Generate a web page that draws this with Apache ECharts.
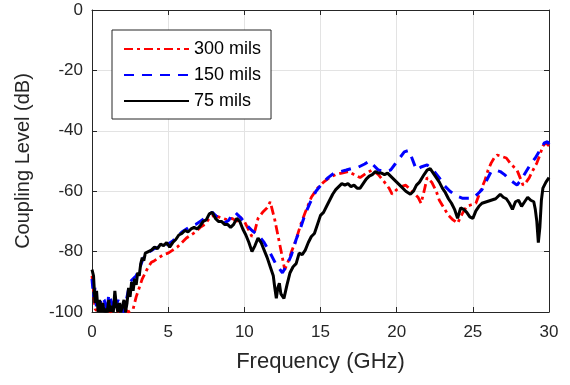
<!DOCTYPE html>
<html>
<head>
<meta charset="utf-8">
<script src="https://cdn.jsdelivr.net/npm/echarts@6/dist/echarts.min.js"></script>
<style>
  html, body { margin: 0; padding: 0; background: #fff; }
  #chart { width: 570px; height: 385px; }
</style>
</head>
<body>
<div id="chart"></div>
<script>
// Coupling level vs frequency for three trace spacings
const seriesNames = ['300 mils', '150 mils', '75 mils'];
const xTicks = [0, 5, 10, 15, 20, 25, 30];
const yTicks = [-100, -80, -60, -40, -20, 0];

// [GHz, dB]
const mils300 = [
  [0.0,-88],[0.1,-93],[0.2,-99],[0.4,-100],[0.6,-97],[0.8,-100],[1.0,-99],[1.2,-100],
  [1.5,-99],[1.8,-100],[2.1,-99],[2.4,-100],[2.7,-99],[2.9,-95],[3.1,-92],[3.3,-89],
  [3.5,-87],[3.7,-85],[3.9,-83.5],[4.1,-83],[4.4,-82],[4.7,-81],[5.0,-80.5],[5.3,-79.5],
  [5.6,-78.5],[5.9,-77],[6.2,-75.5],[6.5,-74.5],[6.8,-73.5],[7.1,-72],[7.4,-71],[7.7,-69],
  [8.0,-68],[8.3,-68.5],[8.6,-69],[8.9,-69.5],[9.2,-69],[9.5,-70],[9.7,-68.5],[10.0,-70],
  [10.2,-72],[10.5,-75],[10.7,-73],[10.9,-69],[11.2,-67],[11.5,-65.5],[11.7,-63.5],[11.8,-64],
  [12.0,-69.5],[12.3,-77],[12.5,-82],[12.65,-86],[12.9,-83],[13.1,-80],[13.4,-76],[13.7,-71],
  [14.0,-67],[14.4,-62],[14.8,-59],[15.2,-57],[15.6,-55.5],[16.0,-54.5],[16.4,-54],[16.8,-53.5],
  [17.2,-54.5],[17.6,-55.5],[18.0,-54],[18.4,-53],[18.8,-54.5],[19.2,-57],[19.5,-59],[19.7,-61],
  [20.0,-59.5],[20.3,-58.5],[20.6,-58],[20.9,-59.5],[21.1,-60.5],[21.4,-62],[21.6,-64],[21.8,-60],
  [22.0,-55.5],[22.3,-57],[22.6,-60],[22.8,-63],[23.1,-65.5],[23.4,-68],[23.7,-69.5],[24.0,-70.6],
  [24.3,-67.5],[24.6,-65],[24.9,-64.5],[25.2,-64],[25.5,-60],[25.8,-56.3],[26.0,-53],[26.2,-50.7],
  [26.4,-49],[26.6,-48],[26.9,-48.5],[27.2,-49],[27.5,-51],[27.9,-53],[28.1,-55.5],[28.3,-58],
  [28.5,-57],[28.7,-55.6],[28.9,-53.5],[29.2,-50.7],[29.4,-48],[29.6,-45],[29.8,-44],[30.0,-45]
];

const mils150 = [
  [0.0,-89],[0.1,-95],[0.2,-92],[0.3,-99],[0.5,-100],[0.6,-95],[0.8,-96],[1.0,-100],
  [1.1,-94],[1.3,-97],[1.5,-100],[1.7,-96],[1.9,-99],[2.1,-100],[2.3,-95],[2.5,-90],
  [2.7,-89],[2.9,-88],[3.1,-86],[3.3,-83],[3.5,-81],[3.8,-80],[4.1,-79],[4.4,-78.5],
  [4.7,-78],[5.0,-77.5],[5.3,-76.5],[5.6,-75],[5.9,-73.5],[6.2,-72.5],[6.5,-71.5],[6.8,-71],
  [7.1,-70],[7.4,-69],[7.7,-67.5],[7.9,-67],[8.2,-68.5],[8.5,-70],[8.7,-70.5],[9.0,-69.5],
  [9.2,-67.5],[9.4,-67],[9.6,-68],[9.8,-69],[10.1,-71],[10.5,-73],[10.9,-74.5],[11.3,-77],
  [11.7,-80.5],[12.1,-84.4],[12.5,-87],[12.8,-84.5],[13.1,-81],[13.4,-76],[13.7,-72],[14.0,-67.5],
  [14.3,-64],[14.7,-60],[15.1,-57.5],[15.5,-55.5],[15.9,-54],[16.3,-53.5],[16.7,-53],[17.1,-52.4],
  [17.5,-52],[17.9,-51],[18.2,-50],[18.5,-51.5],[18.8,-53],[19.2,-53.5],[19.6,-53],[19.9,-51],
  [20.2,-49],[20.5,-47],[20.8,-46.5],[21.0,-49],[21.3,-53],[21.6,-52],[22.0,-51.3],[22.4,-53],
  [22.8,-55.6],[23.1,-58],[23.5,-60],[23.9,-61.5],[24.3,-62.3],[24.7,-62.3],[25.0,-62.3],[25.3,-61],
  [25.6,-59.5],[25.9,-56.5],[26.2,-53.5],[26.5,-53],[26.8,-53.5],[27.1,-54.6],[27.5,-56.5],[27.9,-58],
  [28.2,-56],[28.5,-53.5],[28.8,-51],[29.1,-49],[29.4,-46.5],[29.7,-44],[29.9,-43.6],[30.0,-44.5]
];

const mils75 = [
  [0.0,-86],[0.1,-88],[0.2,-97],[0.3,-93],[0.4,-100],[0.5,-96],[0.6,-100],[0.7,-97],
  [0.8,-100],[0.9,-99],[1.0,-100],[1.1,-96],[1.2,-100],[1.3,-98],[1.4,-100],[1.5,-93],
  [1.6,-98],[1.7,-100],[1.8,-97],[1.9,-100],[2.0,-100],[2.1,-96],[2.2,-100],[2.3,-97],
  [2.4,-92],[2.5,-95],[2.6,-90],[2.7,-93],[2.8,-89],[2.9,-91],[3.0,-87],[3.1,-88],
  [3.2,-84],[3.3,-82],[3.4,-83],[3.5,-80.5],[3.7,-80],[3.9,-79.5],[4.1,-78.5],[4.3,-79],
  [4.5,-77.5],[4.7,-78],[4.9,-77],[5.1,-78.5],[5.3,-77],[5.5,-76],[5.7,-74.5],[5.9,-74],
  [6.1,-73],[6.3,-73.5],[6.5,-72.5],[6.7,-72],[6.9,-72.5],[7.1,-71.5],[7.3,-70],[7.5,-69.5],
  [7.7,-67.5],[7.9,-67],[8.1,-69],[8.3,-70],[8.5,-70],[8.7,-71],[8.9,-71],[9.1,-72],
  [9.3,-71],[9.5,-69],[9.7,-70],[9.9,-72.5],[10.1,-74.5],[10.3,-77],[10.5,-80],[10.7,-78],
  [10.9,-75.5],[11.1,-77],[11.3,-79.5],[11.5,-82],[11.7,-85],[11.9,-88],[12.0,-92],[12.1,-95.5],
  [12.2,-92],[12.3,-90.5],[12.4,-94],[12.6,-95.5],[12.8,-91],[13.0,-87],[13.2,-85],[13.4,-84],
  [13.6,-80.5],[13.8,-81],[14.0,-79.5],[14.2,-77],[14.4,-75],[14.6,-74],[14.8,-71],[15.0,-68],
  [15.2,-67],[15.4,-65],[15.6,-63],[15.8,-61],[16.0,-59.5],[16.2,-58.5],[16.4,-57.5],[16.6,-58],
  [16.8,-57.5],[17.0,-58.5],[17.2,-58],[17.4,-59],[17.6,-59],[17.8,-57.5],[18.0,-56],[18.2,-55],
  [18.4,-54.5],[18.6,-53.5],[18.8,-54],[19.0,-54],[19.2,-54.5],[19.4,-54],[19.6,-55],[19.8,-56],
  [20.0,-57],[20.3,-58.5],[20.6,-60],[20.9,-61],[21.1,-60],[21.3,-58],[21.5,-57],[21.8,-54.5],
  [22.0,-53],[22.2,-52.5],[22.4,-54],[22.6,-55.5],[22.8,-57],[23.0,-59],[23.2,-60.5],[23.4,-62.5],
  [23.6,-64],[23.8,-66],[24.0,-69],[24.2,-65.5],[24.4,-66],[24.6,-67],[24.8,-68.5],[25.0,-69],
  [25.2,-66.5],[25.4,-65],[25.6,-64],[25.9,-63.5],[26.2,-63],[26.5,-62.5],[26.8,-61],[27.0,-62],
  [27.2,-62.5],[27.4,-64],[27.6,-66],[27.8,-63.5],[28.0,-63],[28.2,-65],[28.4,-63.5],[28.6,-62],
  [28.8,-63],[29.0,-63.5],[29.1,-66],[29.2,-70],[29.3,-77],[29.4,-72],[29.5,-63],[29.6,-59],
  [29.8,-57],[30.0,-55.5]
];

const FONT = '"Liberation Sans", Arial, sans-serif';
const AXIS_COLOR = '#262626';
const GRID_COLOR = '#e3e3e3';

const chart = echarts.init(document.getElementById('chart'), null, { renderer: 'canvas' });

const baseX = {
  type: 'value',
  min: xTicks[0],
  max: xTicks[xTicks.length - 1],
  interval: xTicks[1] - xTicks[0],
  axisLine: { show: true, onZero: false, lineStyle: { color: AXIS_COLOR, width: 1 } },
  axisTick: { show: true, inside: true, length: 5, lineStyle: { color: AXIS_COLOR } }
};
const baseY = {
  type: 'value',
  min: yTicks[0],
  max: yTicks[yTicks.length - 1],
  interval: yTicks[1] - yTicks[0],
  axisLine: { show: true, onZero: false, lineStyle: { color: AXIS_COLOR, width: 1 } },
  axisTick: { show: true, inside: true, length: 5, lineStyle: { color: AXIS_COLOR } }
};

chart.setOption({
  animation: false,
  backgroundColor: '#ffffff',
  grid: { left: 92, right: 21, top: 10, bottom: 73, containLabel: false },
  legend: {
    orient: 'vertical',
    left: 112,
    top: 30,
    padding: [10, 10, 9, 11],
    itemWidth: 65,
    itemHeight: 14,
    itemGap: 8,
    itemTextGap: 6,
    // line-only legend keys: hide the marker the line series adds by default
    itemStyle: { opacity: 0 },
    backgroundColor: '#ffffff',
    borderColor: '#262626',
    borderWidth: 1,
    borderRadius: 0,
    textStyle: { fontFamily: FONT, fontSize: 18, color: '#000' },
    data: seriesNames
  },
  xAxis: [
    Object.assign({}, baseX, {
      position: 'bottom',
      name: 'Frequency (GHz)',
      nameLocation: 'middle',
      nameGap: 39,
      nameTextStyle: { fontFamily: FONT, fontSize: 22, color: AXIS_COLOR },
      axisLabel: { fontFamily: FONT, fontSize: 17, color: AXIS_COLOR, margin: 12 },
      splitLine: { show: true, lineStyle: { color: GRID_COLOR, width: 1 } }
    }),
    Object.assign({}, baseX, {
      position: 'top',
      axisLabel: { show: false },
      splitLine: { show: false }
    })
  ],
  yAxis: [
    Object.assign({}, baseY, {
      position: 'left',
      name: 'Coupling Level (dB)',
      nameLocation: 'middle',
      nameGap: 59,
      nameRotate: 90,
      nameTextStyle: { fontFamily: FONT, fontSize: 20, color: AXIS_COLOR },
      axisLabel: { fontFamily: FONT, fontSize: 17, color: AXIS_COLOR, margin: 9 },
      splitLine: { show: true, lineStyle: { color: GRID_COLOR, width: 1 } }
    }),
    Object.assign({}, baseY, {
      position: 'right',
      axisLabel: { show: false },
      splitLine: { show: false }
    })
  ],
  series: [
    {
      name: seriesNames[0], type: 'line', data: mils300,
      showSymbol: false, symbol: 'none',
      lineStyle: { color: '#ff0000', width: 2.8, type: [9, 4, 3, 4] },
      itemStyle: { color: '#ff0000' }
    },
    {
      name: seriesNames[1], type: 'line', data: mils150,
      showSymbol: false, symbol: 'none',
      lineStyle: { color: '#0000ff', width: 3, type: [10, 8] },
      itemStyle: { color: '#0000ff' }
    },
    {
      name: seriesNames[2], type: 'line', data: mils75,
      showSymbol: false, symbol: 'none',
      lineStyle: { color: '#000000', width: 3, type: 'solid' },
      itemStyle: { color: '#000000' }
    }
  ]
});
</script>
</body>
</html>
